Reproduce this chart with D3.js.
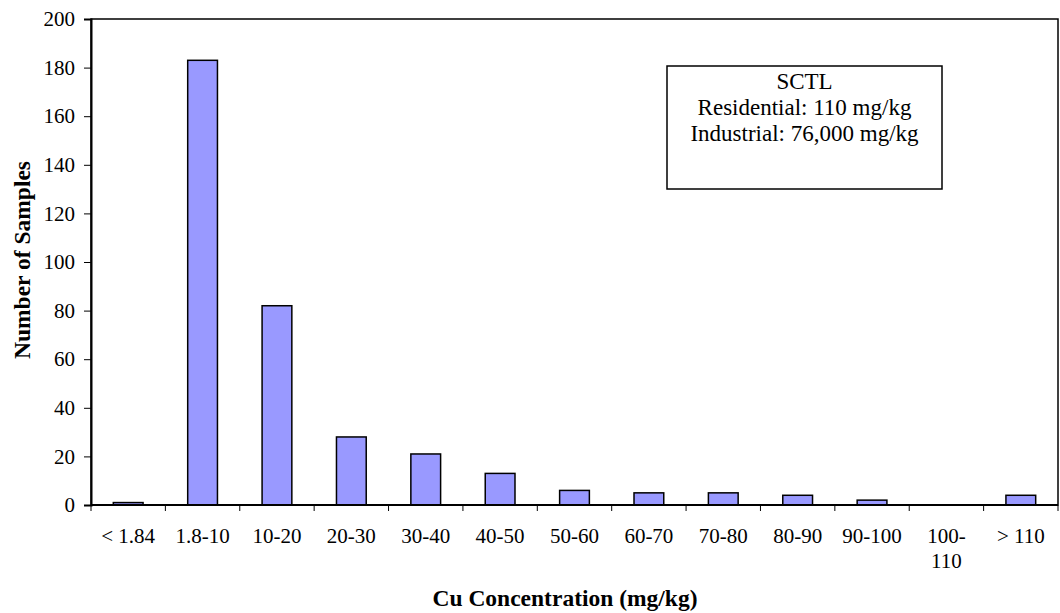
<!DOCTYPE html>
<html>
<head>
<meta charset="utf-8">
<script src="https://cdn.jsdelivr.net/npm/d3@7"></script>
<style>
  html, body { margin: 0; padding: 0; background: #fff; }
  svg { display: block; font-family: "Liberation Serif", "Times New Roman", serif; }
</style>
</head>
<body>
<svg id="chart" width="1060" height="613"></svg>
<script>
const categories = ["< 1.84", "1.8-10", "10-20", "20-30", "30-40", "40-50", "50-60", "60-70", "70-80", "80-90", "90-100", "100-110", "> 110"];
const categoryLabels = [["< 1.84"], ["1.8-10"], ["10-20"], ["20-30"], ["30-40"], ["40-50"], ["50-60"], ["60-70"], ["70-80"], ["80-90"], ["90-100"], ["100-", "110"], ["> 110"]];
const sampleCounts = [1, 183, 82, 28, 21, 13, 6, 5, 5, 4, 2, 0, 4];
const yTicks = [0, 20, 40, 60, 80, 100, 120, 140, 160, 180, 200];
const boxLines = ["SCTL", "Residential: 110 mg/kg", "Industrial: 76,000 mg/kg"];
const xTitle = "Cu Concentration (mg/kg)";
const yTitle = "Number of Samples";

const svg = d3.select("#chart");
const plot = { left: 91, right: 1058, top: 19, bottom: 505 };

const x = d3.scaleBand().domain(categories).range([plot.left, plot.right]).padding(0);
const y = d3.scaleLinear().domain([0, 200]).range([plot.bottom, plot.top]);

// bars
const barW = x.bandwidth() * 0.4;
svg.append("g").selectAll("rect")
  .data(categories.map((c, i) => ({ c, v: sampleCounts[i] })).filter(d => d.v > 0))
  .join("rect")
  .attr("x", d => x(d.c) + (x.bandwidth() - barW) / 2)
  .attr("y", d => y(d.v))
  .attr("width", barW)
  .attr("height", d => y(0) - y(d.v))
  .attr("fill", "#9999FF")
  .attr("stroke", "#000")
  .attr("stroke-width", 1.5);

// plot frame
svg.append("rect")
  .attr("x", plot.left).attr("y", plot.top)
  .attr("width", plot.right - plot.left).attr("height", plot.bottom - plot.top)
  .attr("fill", "none").attr("stroke", "#000").attr("stroke-width", 1.5);

// y axis
const yAxis = d3.axisLeft(y).tickValues(yTicks).tickSize(7).tickPadding(9);
const gy = svg.append("g").attr("transform", `translate(${plot.left},0)`).call(yAxis);
gy.select(".domain").attr("stroke", "#000").attr("stroke-width", 2);
gy.selectAll(".tick line").attr("stroke", "#000").attr("stroke-width", 1);
gy.selectAll(".tick text").attr("font-size", 21).attr("fill", "#000")
  .attr("font-family", "'Liberation Serif', 'Times New Roman', serif");

// x axis baseline
svg.append("line")
  .attr("x1", plot.left).attr("x2", plot.right)
  .attr("y1", y(0)).attr("y2", y(0))
  .attr("stroke", "#000").attr("stroke-width", 2);

// x ticks at band boundaries
const boundaries = categories.map(c => x(c)).concat([x(categories[categories.length - 1]) + x.bandwidth()]);
svg.append("g").selectAll("line")
  .data(boundaries)
  .join("line")
  .attr("x1", d => d).attr("x2", d => d)
  .attr("y1", y(0)).attr("y2", y(0) + 6)
  .attr("stroke", "#000").attr("stroke-width", 1);

// x labels
const xl = svg.append("g").selectAll("text")
  .data(categories.map((c, i) => ({ c, lines: categoryLabels[i] })))
  .join("text")
  .attr("text-anchor", "middle")
  .attr("font-size", 21)
  .attr("fill", "#000");
xl.each(function(d) {
  const t = d3.select(this);
  d.lines.forEach((ln, j) => {
    t.append("tspan")
      .attr("x", x(d.c) + x.bandwidth() / 2)
      .attr("y", y(0) + 38 + j * 25)
      .text(ln);
  });
});

// axis titles
svg.append("text")
  .attr("x", 565)
  .attr("y", 606)
  .attr("text-anchor", "middle")
  .attr("font-size", 23.5)
  .attr("font-weight", "bold")
  .text(xTitle);

svg.append("text")
  .attr("transform", "translate(30,260) rotate(-90)")
  .attr("text-anchor", "middle")
  .attr("font-size", 23.5)
  .attr("font-weight", "bold")
  .text(yTitle);

// annotation box
const box = { x: 667, y: 66, w: 275, h: 123 };
svg.append("rect")
  .attr("x", box.x).attr("y", box.y).attr("width", box.w).attr("height", box.h)
  .attr("fill", "#fff").attr("stroke", "#000").attr("stroke-width", 1.5);
svg.append("g").selectAll("text")
  .data(boxLines)
  .join("text")
  .attr("x", box.x + box.w / 2)
  .attr("y", (d, i) => 89 + i * 26)
  .attr("text-anchor", "middle")
  .attr("font-size", 23)
  .attr("fill", "#000")
  .text(d => d);
</script>
</body>
</html>
